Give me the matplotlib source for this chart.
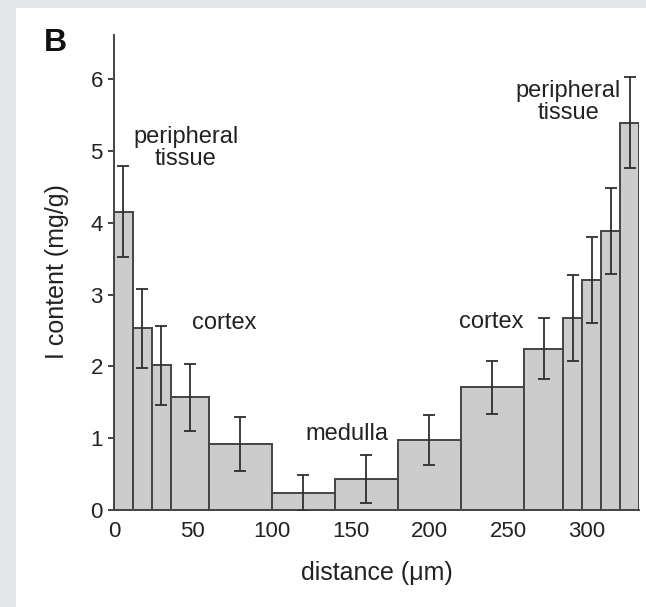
import matplotlib
matplotlib.use("Agg")
import matplotlib.pyplot as plt
import numpy as np

# bin edges along the section (um) and measured I content (mg/g)
bin_edges = [0, 12, 24, 36, 60, 100, 140, 180, 220, 260, 285, 297, 309, 321, 333]
content = [4.16, 2.53, 2.02, 1.57, 0.92, 0.24, 0.43, 0.98, 1.71, 2.25, 2.67, 3.20, 3.89, 5.40]
error = [0.64, 0.55, 0.55, 0.47, 0.37, 0.25, 0.33, 0.35, 0.37, 0.42, 0.60, 0.60, 0.60, 0.63]
y_ticks = [0, 1, 2, 3, 4, 5, 6]
x_ticks = [0, 50, 100, 150, 200, 250, 300]

plt.rcParams['font.family'] = ['Liberation Sans', 'DejaVu Sans']

fig = plt.figure(figsize=(6.46, 6.07), dpi=100, facecolor='#e4e6e8')
# white panel on top of the greyish background
bg = fig.add_axes([16 / 646, 0, 1 - 16 / 646, 1 - 8 / 607], zorder=-1)
bg.axis('off')
bg.add_patch(plt.Rectangle((0, 0), 1, 1, transform=bg.transAxes, facecolor='white', edgecolor='none'))

ax = fig.add_axes([114 / 646, 97 / 607, 525 / 646, 475 / 607], zorder=1)
ax.set_facecolor('none')

edges = np.array(bin_edges)
lefts = edges[:-1]
widths = np.diff(edges)
centers = lefts + widths / 2

ax.bar(lefts, content, width=widths, align='edge', color='#cccccc',
       edgecolor='#444444', linewidth=1.4, zorder=2)
ax.errorbar(centers, content, yerr=error, fmt='none', ecolor='#2e2e2e',
            elinewidth=1.3, capsize=4, capthick=1.3, zorder=3)

ax.set_xlim(0, bin_edges[-1])
ax.set_ylim(0, 6.62)
ax.set_xticks(x_ticks)
ax.set_yticks(y_ticks)
ax.tick_params(axis='x', length=0, pad=8, labelsize=16, colors='#222222')
ax.tick_params(axis='y', length=4, width=1.2, pad=4, labelsize=16, colors='#222222')

for s in ['top', 'right']:
    ax.spines[s].set_visible(False)
for s in ['left', 'bottom']:
    ax.spines[s].set_color('#444444')
    ax.spines[s].set_linewidth(1.4)

ax.set_xlabel('distance (\u03bcm)', fontsize=18, color='#222222')
ax.set_ylabel('I content (mg/g)', fontsize=18, color='#222222')
ax.xaxis.set_label_coords(0.5, -(573 - 510) / 475, transform=ax.transAxes)
ax.yaxis.set_label_coords(-(114 - 57) / 525, (510 - 272) / 475, transform=ax.transAxes)
ax.xaxis.label.set_va('center')
ax.yaxis.label.set_va('center')

txt = dict(fontsize=17, color='#222222', ha='center', va='center', linespacing=1.0)
ax.text(45.5, 5.04, 'peripheral\ntissue', **txt)
ax.text(288, 5.69, 'peripheral\ntissue', **txt)
ax.text(70, 2.6, 'cortex', **txt)
ax.text(239, 2.62, 'cortex', **txt)
ax.text(148, 1.06, 'medulla', **txt)

fig.text(55 / 646, 1 - 43 / 607, 'B', fontsize=23, fontweight='bold', ha='center', va='center',
         color='#111111')

fig.savefig('out.png', dpi=100, facecolor=fig.get_facecolor())
